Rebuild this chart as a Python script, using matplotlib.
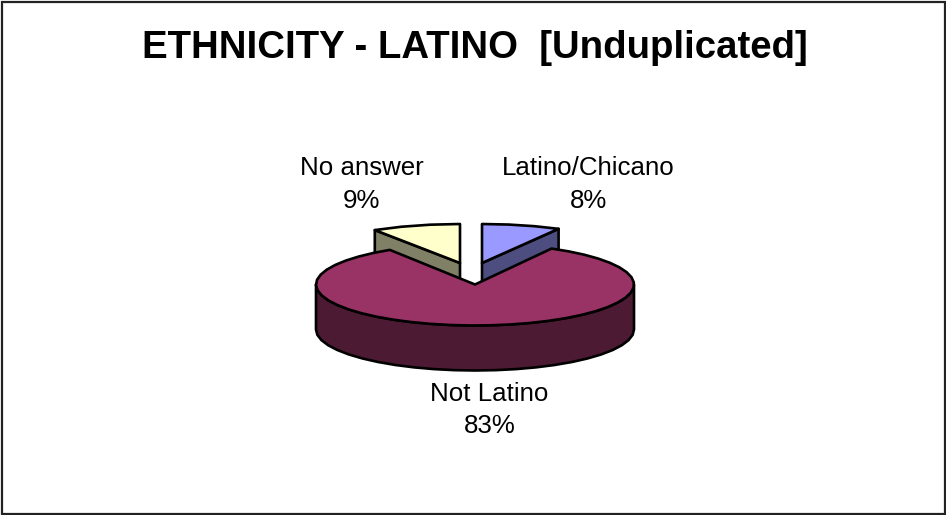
import numpy as np
import matplotlib
matplotlib.use("Agg")
import matplotlib.pyplot as plt
from matplotlib.patches import Polygon, Rectangle

plt.rcParams['font.family'] = ['Liberation Sans', 'DejaVu Sans']

categories = ["Latino/Chicano", "Not Latino", "No answer"]
shares = [8, 83, 9]
top_colors = ["#9999FF", "#993366", "#FFFFCC"]
wall_colors = ["#4D4D80", "#4D1A33", "#808066"]
title = "ETHNICITY - LATINO  [Unduplicated]"

# Centre of each slice's top face, in canvas pixels (pie is exploded)
centres = [(482, 263), (475, 284.5), (460, 263)]
label_pos = [(588.5, 184.5), (489.5, 410), (361.5, 184.5)]
RX, RY = 159, 41
SMALL_RY = 39
DEPTH = 45
EDGE = dict(edgecolor="black", linewidth=1.9, joinstyle="round")

W, H = 946, 515
fig = plt.figure(figsize=(W / 100, H / 100), dpi=100, facecolor="white")
ax = fig.add_axes([0, 0, 1, 1])
ax.set_xlim(0, W)
ax.set_ylim(H, 0)
ax.axis("off")


def rim(cx, cy, ry, a0, a1):
    """Points on the elliptical rim; angles run clockwise from 12 o'clock."""
    steps = max(2, int(abs(a1 - a0) / 7))
    t = np.radians(np.linspace(a0, a1, steps))
    return np.column_stack([cx + RX * np.sin(t), cy - ry * np.cos(t)])


# Angular extent of each slice
edges = np.concatenate([[0], np.cumsum(shares)]) * 3.6
spans = list(zip(edges[:-1], edges[1:]))

# Small slices sit behind the large one, so they are drawn first
for i in (0, 2):
    cx, cy = centres[i]
    a0, a1 = spans[i]
    cut = a1 if i == 0 else a0
    p = rim(cx, cy, SMALL_RY, cut, cut)[0]
    ax.add_patch(Polygon([(cx, cy), p, (p[0], p[1] + DEPTH), (cx, cy + DEPTH)],
                         facecolor=wall_colors[i], **EDGE))
    face = np.vstack([[(cx, cy)], rim(cx, cy, SMALL_RY, a0, a1)])
    ax.add_patch(Polygon(face, facecolor=top_colors[i], **EDGE))

# Large slice: front wall, then top face
cx, cy = centres[1]
a0, a1 = spans[1]
front = rim(cx, cy, RY, 90, 270)
wall = np.vstack([front, (front + [0, DEPTH])[::-1]])
ax.add_patch(Polygon(wall, facecolor=wall_colors[1], **EDGE))
face = np.vstack([[(cx, cy)], rim(cx, cy, RY, a0, a1)])
ax.add_patch(Polygon(face, facecolor=top_colors[1], **EDGE))

for name, share, (x, y) in zip(categories, shares, label_pos):
    ax.text(x, y, f"{name}\n{share}%", ha="center", va="center",
            fontsize=18.6, linespacing=1.45, color="black")

ax.text(475, 48.5, title, ha="center", va="center", fontsize=27.6,
        fontweight="bold", color="black")

# Chart frame
ax.add_patch(Rectangle((1.5, 1.5), W - 3, H - 3, fill=False,
                       edgecolor="#222222", linewidth=1.6))

fig.savefig("out.png", dpi=100, facecolor="white")
